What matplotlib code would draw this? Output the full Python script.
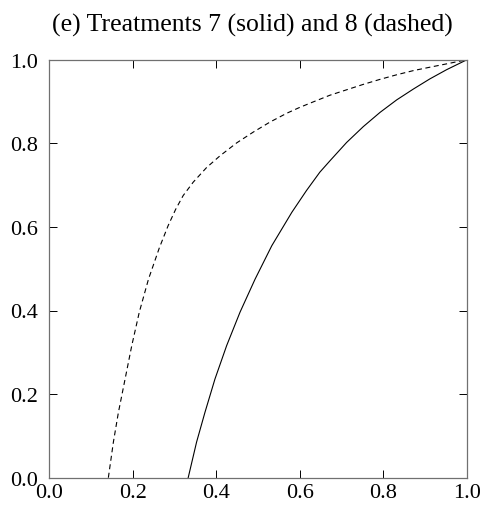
import numpy as np
import matplotlib
matplotlib.use("Agg")
import matplotlib.pyplot as plt

plt.rcParams['font.family'] = ['Liberation Serif', 'DejaVu Serif']

# treatment 7 (solid)
x_t7 = [0.333, 0.353, 0.373, 0.397, 0.425, 0.457, 0.493, 0.533, 0.581,
        0.616, 0.648, 0.672, 0.712, 0.752, 0.792, 0.832, 0.872, 0.911,
        0.951, 1.0]
y_t7 = [0.0, 0.085, 0.156, 0.236, 0.316, 0.396, 0.475, 0.555, 0.635,
        0.687, 0.731, 0.758, 0.802, 0.840, 0.874, 0.904, 0.930, 0.954,
        0.976, 1.0]

# treatment 8 (dashed)
x_t8 = [0.142, 0.154, 0.166, 0.182, 0.198, 0.216, 0.238, 0.264, 0.285,
        0.303, 0.321, 0.345, 0.377, 0.409, 0.449, 0.489, 0.529, 0.569,
        0.600, 0.632, 0.672, 0.712, 0.752, 0.792, 0.832, 0.872, 0.911,
        0.951, 1.0]
y_t8 = [0.0, 0.085, 0.156, 0.236, 0.316, 0.396, 0.475, 0.550, 0.603,
        0.642, 0.675, 0.707, 0.742, 0.770, 0.801, 0.827, 0.851, 0.872,
        0.886, 0.899, 0.915, 0.928, 0.941, 0.953, 0.964, 0.974, 0.982,
        0.990, 1.0]

ticks = [0.0, 0.2, 0.4, 0.6, 0.8, 1.0]
title = '(e) Treatments 7 (solid) and 8 (dashed)'

fig = plt.figure(figsize=(4.87, 5.10), dpi=100)
ax = fig.add_axes([49/487, 1 - 478.7/510, 418/487, 418/510])

ax.plot(x_t7, y_t7, color='black', lw=0.8, solid_joinstyle='round')
ax.plot(x_t8, y_t8, color='black', lw=0.8, linestyle=(0, (4.5, 3.2)))

ax.set_xlim(0, 1)
ax.set_ylim(0, 1)
ax.set_xticks(ticks)
ax.set_yticks(ticks)
ax.set_xticklabels(['%.1f' % t for t in ticks])
ax.set_yticklabels(['%.1f' % t for t in ticks])

for s in ax.spines.values():
    s.set_color('#707070')
    s.set_linewidth(0.9)

ax.tick_params(direction='in', length=5.8, width=0.7, color='black',
               top=True, right=True, labelsize=16)
ax.tick_params(axis='x', pad=3.5)
ax.tick_params(axis='y', pad=8)

fig.text(252.5/487, 1 - 31.7/510, title, ha='center', va='baseline', fontsize=18.5)

fig.savefig('out.png', dpi=100)
